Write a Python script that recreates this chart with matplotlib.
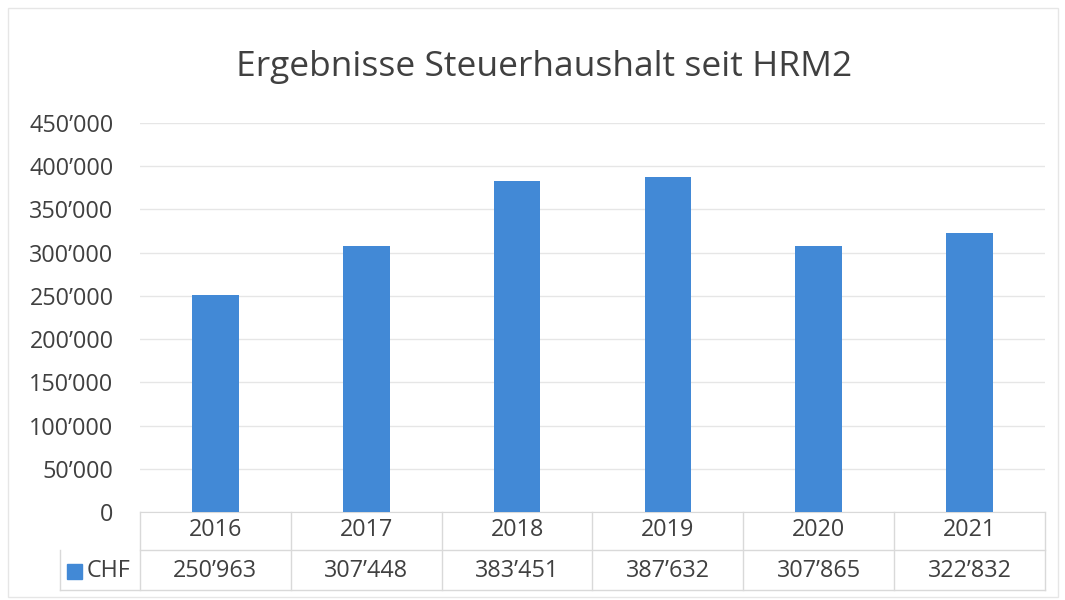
import matplotlib
matplotlib.use("Agg")
import matplotlib.pyplot as plt
from matplotlib.transforms import blended_transform_factory
from matplotlib.ticker import FuncFormatter, MultipleLocator
from matplotlib.lines import Line2D
from matplotlib.patches import Rectangle

years = ["2016", "2017", "2018", "2019", "2020", "2021"]
values = [250963, 307448, 383451, 387632, 307865, 322832]
series_name = "CHF"
title = "Ergebnisse Steuerhaushalt seit HRM2"

def fmt(v):
    return f"{int(v):,}".replace(",", "\u2019")

W, H = 1065, 600
fig = plt.figure(figsize=(W / 100, H / 100), dpi=100)
plt.rcParams['font.family'] = ['Open Sans', 'DejaVu Sans']
txt = "#404040"
grid_c = "#e6e6e6"
line_c = "#d9d9d9"
bar_c = "#4289d6"
fs = 16.8

def fx(px):
    return px / W

def fy(py):
    return 1 - py / H

ax = fig.add_axes([fx(140), fy(512), fx(1045) - fx(140), fy(123) - fy(512)])
x = list(range(len(years)))
ax.bar(x, values, width=0.31, color=bar_c, zorder=3)
ax.set_xlim(-0.5, len(years) - 0.5)
ax.set_ylim(0, 450000)
ax.yaxis.set_major_locator(MultipleLocator(50000))
ax.yaxis.set_major_formatter(FuncFormatter(lambda v, p: fmt(v)))
ax.grid(axis="y", color=grid_c, linewidth=1, zorder=0)
for s in ["top", "right", "left"]:
    ax.spines[s].set_visible(False)
ax.spines["bottom"].set_color(line_c)
ax.tick_params(axis="y", length=0, pad=19, labelsize=fs, labelcolor=txt)
ax.tick_params(axis="x", length=0, labelbottom=False)

fig.text(fx(544), fy(67), title, ha="center", va="center", fontsize=25.5, color=txt)

tr = blended_transform_factory(ax.transData, fig.transFigure)
# table text
for i, (yr, v) in enumerate(zip(years, values)):
    ax.text(i, fy(530), yr, transform=tr, ha="center", va="center",
            fontsize=fs, color=txt, clip_on=False)
    ax.text(i, fy(571), fmt(v), transform=tr, ha="center", va="center",
            fontsize=fs, color=txt, clip_on=False)

# table lines
for i in range(len(years) + 1):
    xb = i - 0.5
    fig.add_artist(Line2D([xb, xb], [fy(512), fy(590)], transform=tr,
                          color=line_c, linewidth=1))
fig.add_artist(Line2D([fx(140), fx(1045)], [fy(550), fy(550)],
                      transform=fig.transFigure, color=line_c, linewidth=1))
fig.add_artist(Line2D([fx(60), fx(1045)], [fy(590), fy(590)],
                      transform=fig.transFigure, color=line_c, linewidth=1))
fig.add_artist(Line2D([fx(60), fx(60)], [fy(550), fy(590)],
                      transform=fig.transFigure, color=line_c, linewidth=1))

# legend key in table
fig.add_artist(Rectangle((fx(67), fy(579)), fx(15), fy(564) - fy(579),
                         transform=fig.transFigure, color=bar_c))
fig.text(fx(87), fy(571), series_name, ha="left", va="center",
         fontsize=fs, color=txt)

# chart border
fig.add_artist(Rectangle((fx(8), fy(597)), fx(1050), fy(8) - fy(597),
                         transform=fig.transFigure, fill=False,
                         edgecolor="#e6e6e6", linewidth=1))

fig.savefig("out.png", dpi=100, facecolor="white")
